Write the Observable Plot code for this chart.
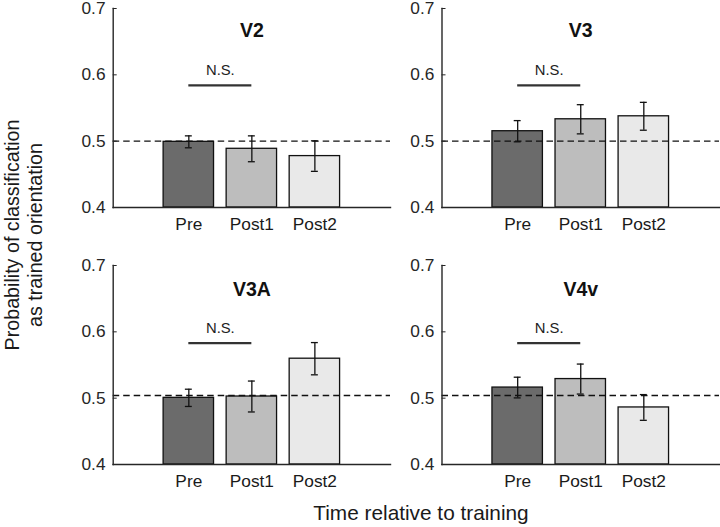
<!DOCTYPE html>
<html>
<head>
<meta charset="utf-8">
<script src="https://cdn.jsdelivr.net/npm/d3@7"></script>
<script src="https://cdn.jsdelivr.net/npm/@observablehq/plot@0.6"></script>
<style>
  html, body { margin: 0; padding: 0; background: #fff; }
  #fig { position: relative; width: 720px; height: 527px; overflow: hidden; background: #fff;
         font-family: "Liberation Sans", Arial, Helvetica, sans-serif; color: #1a1a1a; }
  .panel { position: absolute; }
  .ylab { position: absolute; left: -126.25px; top: 212px; width: 300px; height: 46px;
          font-size: 19.7px; line-height: 23px; text-align: center; transform: rotate(-90deg);
          transform-origin: 50% 50%; white-space: nowrap; }
  .xlab { position: absolute; left: 221px; width: 400px; top: 501px; font-size: 20.8px;
          line-height: 23px; text-align: center; white-space: nowrap; }
</style>
</head>
<body>
<div id="fig">
  <div class="ylab">Probability of classification<br>as trained orientation</div>
  <div class="xlab">Time relative to training</div>
</div>
<script>
// ---- data ----
const regions = ["V2", "V3", "V3A", "V4v"];
const conditions = ["Pre", "Post1", "Post2"];
const barFills = ["#6b6b6b", "#bdbdbd", "#e9e9e9"];
const meanV2  = [0.499, 0.4885, 0.4775];
const meanV3  = [0.515, 0.533, 0.5375];
const meanV3A = [0.5005, 0.5025, 0.5595];
const meanV4v = [0.516, 0.5288, 0.486];
const errV2  = [0.009, 0.0195, 0.023];
const errV3  = [0.016, 0.022, 0.021];
const errV3A = [0.013, 0.0233, 0.0243];
const errV4v = [0.0156, 0.0226, 0.0194];
const chanceLevel = [0.5, 0.5, 0.504, 0.504];
const nsLevel = [0.584, 0.584, 0.583, 0.583];
const nsLabel = "N.S.";
const nsFrom = 1, nsTo = 2;           // bracket spans Pre .. Post1
const yTicks = [0.4, 0.5, 0.6, 0.7];
const yDomain = [0.4, 0.7];
const xDomain = [-0.2, 4.2];

const means = [meanV2, meanV3, meanV3A, meanV4v];
const errs = [errV2, errV3, errV3A, errV4v];

const font = '"Liberation Sans", Arial, Helvetica, sans-serif';
const axisColor = "#262626";
const barHalf = 0.4, capHalf = 0.055;

const fig = document.getElementById("fig");

regions.forEach((name, i) => {
  const row = Math.floor(i / 2), col = i % 2;
  const data = conditions.map((c, j) => ({c, x: j + 1, v: means[i][j], e: errs[i][j], fill: barFills[j]}));
  const chart = Plot.plot({
    width: 390,
    height: 237,
    marginLeft: col === 0 ? 112.7 : 112.5,
    marginRight: 0,
    marginTop: 8,
    marginBottom: 30,
    x: {domain: xDomain},
    y: {domain: yDomain},
    style: {fontFamily: font, fontSize: "17px", color: axisColor, background: "transparent", overflow: "visible"},
    marks: [
      Plot.rect(data, {x1: d => d.x - barHalf, x2: d => d.x + barHalf, y1: yDomain[0], y2: "v",
        fill: "fill", stroke: "#111", strokeWidth: 1.3}),
      Plot.ruleY([chanceLevel[i]], {stroke: "#111", strokeWidth: 1.3, strokeDasharray: "6.5,4"}),
      Plot.ruleX(data, {x: "x", y1: d => d.v - d.e, y2: d => d.v + d.e, stroke: "#111", strokeWidth: 1.3}),
      Plot.ruleY(data, {y: d => d.v + d.e, x1: d => d.x - capHalf, x2: d => d.x + capHalf, stroke: "#111", strokeWidth: 1.3}),
      Plot.ruleY(data, {y: d => d.v - d.e, x1: d => d.x - capHalf, x2: d => d.x + capHalf, stroke: "#111", strokeWidth: 1.3}),
      Plot.ruleY([nsLevel[i]], {x1: nsFrom, x2: nsTo, stroke: "#333", strokeWidth: 2.2}),
      Plot.text([nsLevel[i]], {x: (nsFrom + nsTo) / 2, y: d => d, text: () => nsLabel, dy: -15,
        fontSize: 14.8, fill: "#222"}),
      Plot.text([name], {x: (xDomain[0] + xDomain[1]) / 2, frameAnchor: "top", text: d => d,
        dy: row === 0 ? 15 : 17, fontSize: 19.5, fontWeight: "bold", fill: "#111"}),
      Plot.axisY({ticks: yTicks, tickFormat: d3.format(".1f"), tickSize: -4, tickPadding: 11.7,
        label: null, stroke: axisColor, fill: axisColor, fontSize: 17.3}),
      Plot.axisX({ticks: [1, 2, 3], tickFormat: d => conditions[d - 1], tickSize: 0, tickPadding: 10,
        label: null, fill: "#1a1a1a", fontSize: 17.3}),
      Plot.frame({anchor: "left", stroke: axisColor, strokeWidth: 1.4}),
      Plot.frame({anchor: "bottom", stroke: axisColor, strokeWidth: 1.4})
    ]
  });
  chart.classList.add("panel");
  chart.style.left = (col === 0 ? 0 : 329) + "px";
  chart.style.top = (row === 0 ? 0 : 257) + "px";
  fig.appendChild(chart);
});
</script>
</body>
</html>
